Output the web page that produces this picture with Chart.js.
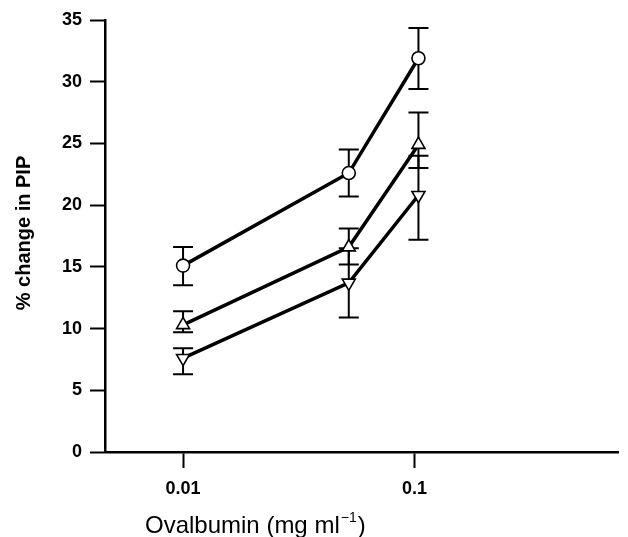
<!DOCTYPE html>
<html lang="en">
<head>
    <meta charset="UTF-8">
    <title>% change in PIP vs ovalbumin</title>
    <script src="https://cdn.jsdelivr.net/npm/chart.js"></script>
    <style>
        html, body {
            margin: 0;
            padding: 0;
            background: #fff;
        }
        #wrap {
            width: 628px;
            height: 537px;
        }
    </style>
</head>
<body>
    <div id="wrap"><canvas id="myChart" width="628" height="537"></canvas></div>

    <script>
        // doses (mg/ml)
        const doses = [0.01, 0.052, 0.104];

        // open circles
        const circleMean = [15.1, 22.6, 31.9];
        const circleHi = [16.6, 24.5, 34.35];
        const circleLo = [13.5, 20.7, 29.4];

        // triangles pointing up
        const upMean = [10.3, 16.6, 24.9];
        const upHi = [11.4, 18.1, 27.5];
        const upLo = [9.7, 15.2, 23.0];

        // triangles pointing down
        const downMean = [7.6, 13.7, 20.8];
        const downHi = [8.4, 16.5, 24.0];
        const downLo = [6.3, 10.9, 17.2];

        const xTickVals = [0.01, 0.1];
        const xTickLabels = ['0.01', '0.1'];
        const yTickVals = [0, 5, 10, 15, 20, 25, 30, 35];

        const FONT = '"Liberation Sans", Arial, sans-serif';

        function pts(means) {
            return doses.map((d, i) => ({ x: d, y: means[i] }));
        }

        // error bars drawn under the markers
        const errorBars = {
            id: 'errorBars',
            beforeDatasetsDraw(chart) {
                const c = chart.ctx;
                const xs = chart.scales.x;
                const ys = chart.scales.y;
                const sets = [[circleLo, circleHi], [upLo, upHi], [downLo, downHi]];
                c.save();
                c.strokeStyle = '#000';
                c.lineWidth = 2;
                sets.forEach(([lo, hi]) => {
                    doses.forEach((d, i) => {
                        const px = xs.getPixelForValue(d);
                        const y1 = ys.getPixelForValue(lo[i]);
                        const y2 = ys.getPixelForValue(hi[i]);
                        c.beginPath();
                        c.moveTo(px, y1);
                        c.lineTo(px, y2);
                        c.moveTo(px - 10, y1);
                        c.lineTo(px + 10, y1);
                        c.moveTo(px - 10, y2);
                        c.lineTo(px + 10, y2);
                        c.stroke();
                    });
                });
                c.restore();
            }
        };

        // axis titles
        const axisTitles = {
            id: 'axisTitles',
            afterDraw(chart) {
                const c = chart.ctx;
                c.save();
                c.fillStyle = '#000';
                // y title
                c.font = 'bold 20px ' + FONT;
                c.textAlign = 'center';
                c.textBaseline = 'middle';
                c.translate(24, 233);
                c.rotate(-Math.PI / 2);
                c.fillText('% change in PIP', 0, 0);
                c.restore();

                // x title with superscript
                c.save();
                c.fillStyle = '#000';
                c.textAlign = 'left';
                c.textBaseline = 'alphabetic';
                let x = 145;
                const base = 533;
                c.font = '24px ' + FONT;
                const t1 = 'Ovalbumin (mg ml';
                c.fillText(t1, x, base);
                x += c.measureText(t1).width + 1;
                c.font = '14px ' + FONT;
                c.fillText('\u22121', x, base - 11);
                x += c.measureText('\u22121').width + 1;
                c.font = '24px ' + FONT;
                c.fillText(')', x, base);
                c.restore();
            }
        };

        function ds(means, style, rot, r) {
            return {
                data: pts(means),
                borderColor: '#000',
                borderWidth: 3.5,
                pointStyle: style,
                rotation: rot,
                pointRadius: r,
                pointBorderWidth: 1.6,
                pointBackgroundColor: '#fff',
                pointBorderColor: '#000',
                fill: false,
                tension: 0
            };
        }

        const ctx = document.getElementById('myChart').getContext('2d');
        const myChart = new Chart(ctx, {
            type: 'line',
            data: {
                datasets: [
                    ds(circleMean, 'circle', 0, 6.5),
                    ds(upMean, 'triangle', 0, 7.5),
                    ds(downMean, 'triangle', 180, 7.5)
                ]
            },
            options: {
                responsive: false,
                animation: false,
                layout: { padding: { top: 20, right: 2, left: 0, bottom: 0 } },
                plugins: {
                    legend: { display: false },
                    tooltip: { enabled: false }
                },
                scales: {
                    x: {
                        type: 'logarithmic',
                        min: 0.0046,
                        max: 0.764,
                        afterBuildTicks(scale) {
                            scale.ticks = xTickVals.map(v => ({ value: v }));
                        },
                        afterFit(scale) {
                            scale.height = 85;
                        },
                        ticks: {
                            color: '#000',
                            padding: 10,
                            autoSkip: false,
                            maxRotation: 0,
                            font: { family: FONT, size: 18, weight: 'bold' },
                            callback: (v) => {
                                const i = xTickVals.indexOf(v);
                                return i >= 0 ? xTickLabels[i] : '';
                            }
                        },
                        grid: {
                            display: true,
                            drawOnChartArea: false,
                            drawTicks: true,
                            tickLength: 16,
                            tickColor: '#000',
                            tickWidth: 2
                        },
                        border: { display: true, color: '#000', width: 2.5 }
                    },
                    y: {
                        min: 0,
                        max: 35,
                        afterBuildTicks(scale) {
                            scale.ticks = yTickVals.map(v => ({ value: v }));
                        },
                        afterFit(scale) {
                            scale.width = 105;
                        },
                        ticks: {
                            color: '#000',
                            padding: 8,
                            font: { family: FONT, size: 18, weight: 'bold' }
                        },
                        grid: {
                            display: true,
                            drawOnChartArea: false,
                            drawTicks: true,
                            tickLength: 15,
                            tickColor: '#000',
                            tickWidth: 2
                        },
                        border: { display: true, color: '#000', width: 2.5 }
                    }
                }
            },
            plugins: [errorBars, axisTitles]
        });
    </script>
</body>
</html>
